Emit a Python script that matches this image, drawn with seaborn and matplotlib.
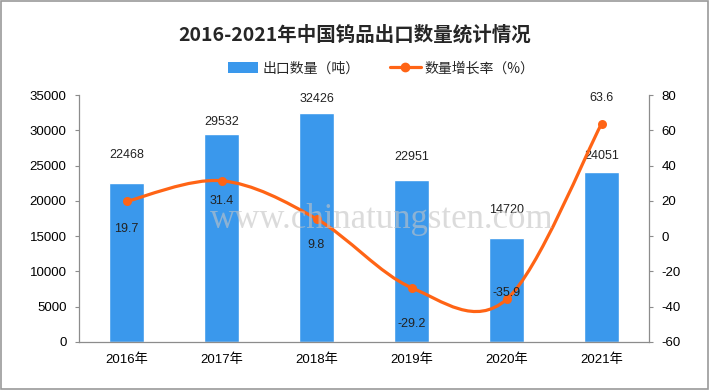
import matplotlib
matplotlib.use("Agg")
import matplotlib.pyplot as plt
from matplotlib.path import Path
from matplotlib.patches import PathPatch, Rectangle
from matplotlib.lines import Line2D
import seaborn as sns
import pandas as pd
import numpy as np

years = ["2016年", "2017年", "2018年", "2019年", "2020年", "2021年"]
export_qty = [22468, 29532, 32426, 22951, 14720, 24051]
growth_rate = [19.7, 31.4, 9.8, -29.2, -35.9, 63.6]

title = "2016-2021年中国钨品出口数量统计情况"
bar_label = "出口数量（吨）"
line_label = "数量增长率（%）"

sns.set_theme(style="white")
plt.rcParams['font.family'] = ['Liberation Sans', 'Noto Sans CJK SC', 'DejaVu Sans']
plt.rcParams['axes.unicode_minus'] = False

BAR_C = "#3A98EC"
LINE_C = "#FF6415"
AX_C = "#8C8C8C"

fig = plt.figure(figsize=(7.1, 3.9), dpi=100)
fig.patch.set_facecolor("white")
fig.add_artist(Rectangle((0.002, 0.003), 0.995, 0.994, transform=fig.transFigure,
                         fill=False, edgecolor="#9A9A9A", linewidth=1.2))

ax = fig.add_axes([79/710, 1-342/390, (649-79)/710, (342-95)/390])
df = pd.DataFrame({"year": years, "qty": export_qty, "rate": growth_rate})
sns.barplot(data=df, x="year", y="qty", color=BAR_C, saturation=1, width=0.37, ax=ax)
ax.set_ylim(0, 35000)
ax.set_yticks(np.arange(0, 35001, 5000))
ax.set_xlim(-0.5, len(years)-0.5)
ax.set_xlabel("")
ax.set_ylabel("")
ax.tick_params(axis="both", labelsize=9.5, colors="black", length=3, width=0.8, direction="out")
ax.tick_params(axis="y", pad=6)
ax.tick_params(axis="x", pad=5)
ax.tick_params(axis="both", color=AX_C)
for s in ["top", "right"]:
    ax.spines[s].set_visible(False)
for s in ["left", "bottom"]:
    ax.spines[s].set_color(AX_C)
    ax.spines[s].set_linewidth(0.9)

bar_offsets = [28, 12, 14, 23, 28, 16]
for i, v in enumerate(export_qty):
    ax.annotate(str(v), (i, v), xytext=(0, bar_offsets[i]), textcoords="offset pixels",
                ha="center", va="center", fontsize=9, color="#222222")

ax2 = ax.twinx()
ax2.set_ylim(-60, 80)
ax2.set_yticks(np.arange(-60, 81, 20))
ax2.set_xlim(-0.5, len(years)-0.5)
for s in ["top", "left", "bottom"]:
    ax2.spines[s].set_visible(False)
ax2.spines["right"].set_color(AX_C)
ax2.spines["right"].set_linewidth(0.9)
ax2.tick_params(axis="y", labelsize=9.5, colors="black", color=AX_C, length=3, width=0.8, pad=6)
ax2.grid(False)
ax.grid(False)

# smooth curve through the data points (Bezier, Excel-style smoothing)
xs = np.arange(len(years), dtype=float)
ys = np.array(growth_rate, dtype=float)
P = np.column_stack([xs, ys])
verts = [tuple(P[0])]
codes = [Path.MOVETO]
n = len(P)
for i in range(n-1):
    p0 = P[i-1] if i > 0 else P[i]
    p1 = P[i]
    p2 = P[i+1]
    p3 = P[i+2] if i+2 < n else P[i+1]
    c1 = p1 + (p2 - p0) / 6.0
    c2 = p2 - (p3 - p1) / 6.0
    verts += [tuple(c1), tuple(c2), tuple(p2)]
    codes += [Path.CURVE4]*3
ax2.add_patch(PathPatch(Path(verts, codes), fill=False, edgecolor=LINE_C, linewidth=2.3,
                        capstyle="round", joinstyle="round", zorder=3))
sns.scatterplot(x=xs, y=ys, color=LINE_C, s=42, edgecolor=LINE_C, linewidth=0, ax=ax2, zorder=4)

rate_offsets = [(0, -28), (0, -20), (0, -26), (0, -36), (0, 6), (0, 26)]
for i, v in enumerate(growth_rate):
    ax2.annotate(f"{v}", (i, v), xytext=rate_offsets[i], textcoords="offset pixels",
                 ha="center", va="center", fontsize=9, color="#222222", zorder=5)

# watermark
fig.text(0.537, 0.437, "www.chinatungsten.com", fontsize=25, color="#C4C4C4",
         alpha=0.6, ha="center", va="center", zorder=10, family="Liberation Serif")

fig.text(0.5, 0.91, title, ha="center", va="center", fontsize=14, fontweight="bold",
         family=['Noto Sans CJK SC', 'DejaVu Sans'])

handles = [Rectangle((0, 0), 1, 1, facecolor=BAR_C, edgecolor="none"),
           Line2D([], [], color=LINE_C, linewidth=2.3, marker="o", markersize=6)]
fig.legend(handles, [bar_label, line_label], loc="center", bbox_to_anchor=(0.537, 0.825),
           ncol=2, frameon=False, handlelength=2.2, handleheight=0.9,
           columnspacing=2.2, handletextpad=0.3,
           prop={'family': ['Noto Sans CJK SC', 'DejaVu Sans'], 'size': 10})

fig.savefig("out.png", dpi=100, facecolor="white")
